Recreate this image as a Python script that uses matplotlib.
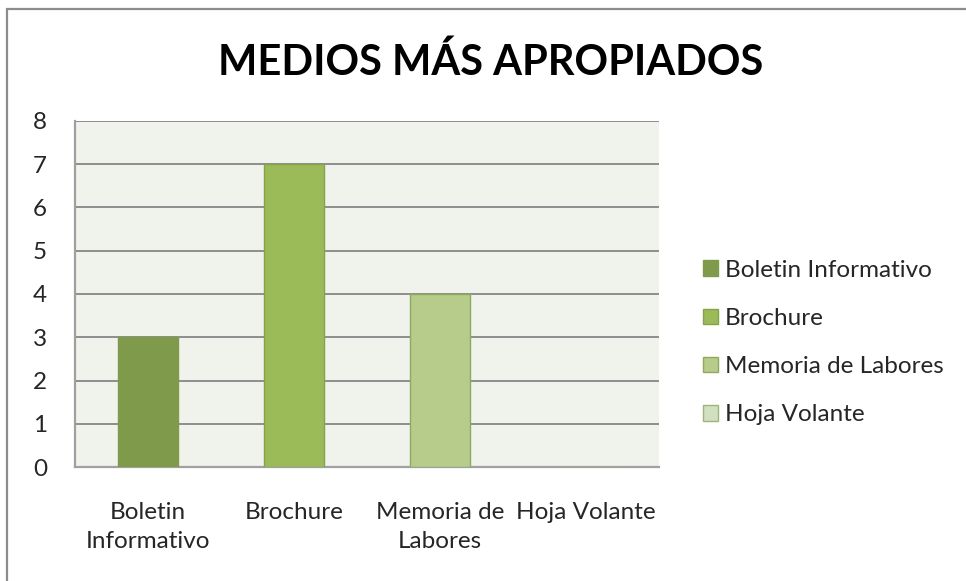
import matplotlib.pyplot as plt
from matplotlib.patches import Rectangle

# data
categories = ['Boletin\nInformativo', 'Brochure', 'Memoria de\nLabores', 'Hoja Volante']
legend_labels = ['Boletin Informativo', 'Brochure', 'Memoria de Labores', 'Hoja Volante']
values = [3, 7, 4, 0]
colors = ['#7F9A4B', '#9BBB59', '#B7CC8B', '#D2DFC0']
edges = ['#7F9A4B', '#84A34A', '#8DAA5E', '#9DB57A']

plt.rcParams['font.family'] = ['Lato', 'DejaVu Sans']

fig = plt.figure(figsize=(9.66, 5.81), dpi=100)
W, H = 966, 581

# outer chart border (only top and left visible in the reference)
fig.patches.append(Rectangle((7 / W, -0.05), 1.1, (H - 9) / H + 0.05,
                             transform=fig.transFigure, fill=False,
                             edgecolor='#8C8C8C', linewidth=1.6))

ax = fig.add_axes([75 / W, 1 - 467 / H, (659 - 75) / W, (467 - 121) / H])
ax.set_facecolor('#F0F2EC')

x = range(len(categories))
bars = ax.bar(x, values, width=0.41, color=colors, edgecolor=edges, linewidth=1.0,
              zorder=3)

ax.set_xlim(-0.5, len(categories) - 0.5)
ax.set_ylim(0, 8)
ax.set_yticks(range(0, 9))
ax.set_xticks(list(x))
ax.set_xticklabels(categories, fontsize=17.5, color='#262626', linespacing=1.5)
ax.tick_params(axis='y', labelsize=17.5, colors='#262626', length=0, pad=20)
ax.tick_params(axis='x', length=0, pad=25)
ax.yaxis.grid(True, color='#8E8E8E', linewidth=1.4, zorder=1)

for side in ['top', 'right']:
    ax.spines[side].set_visible(False)
for side in ['left', 'bottom']:
    ax.spines[side].set_color('#A0A0A0')
    ax.spines[side].set_linewidth(1.6)

fig.text(491 / W, 1 - 62 / H, 'MEDIOS MÁS APROPIADOS', ha='center', va='center',
         fontsize=30, fontweight='bold', color='black')

handles = [Rectangle((0, 0), 1, 1, facecolor=c, edgecolor=e, linewidth=1.0)
           for c, e in zip(colors, edges)]
fig.legend(handles, legend_labels, loc='upper left',
           bbox_to_anchor=(693 / W, 1 - 250 / H), frameon=False, fontsize=17.5,
           handlelength=0.62, handleheight=0.62, handletextpad=0.3,
           labelspacing=1.12, labelcolor='#262626', borderaxespad=0)

fig.savefig('out.png', dpi=100, facecolor='white')
